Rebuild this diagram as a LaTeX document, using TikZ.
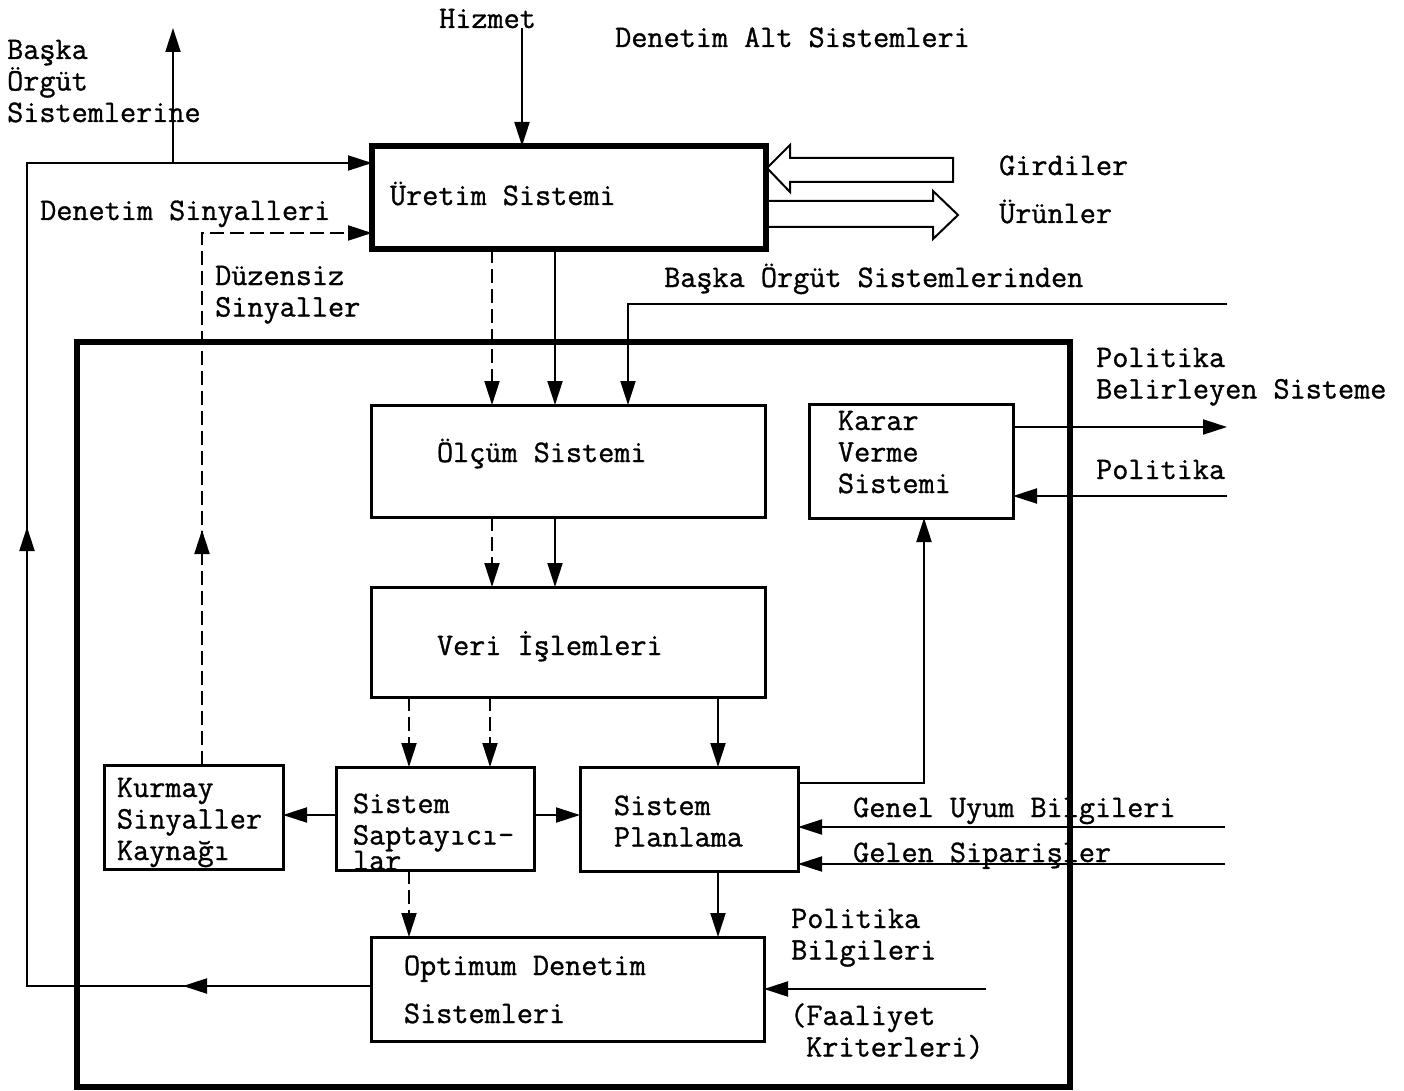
\documentclass[tikz,border=0pt]{standalone}
\usepackage{fontspec}
\setmonofont{Latin Modern Mono}[FakeBold=1]
\usetikzlibrary{arrows.meta}

\tikzset{
  yazi/.style={font=\ttfamily\fontsize{31.3}{31.5}\selectfont, inner sep=0pt,
    execute at begin node={\spaceskip=\fontdimen2\font\relax}},
  kutu/.style={yazi, draw, line width=3pt, anchor=north west, align=left, outer sep=0pt, text height=25pt},
  etiket/.style={yazi, anchor=base west, align=left},
  cizgi/.style={line width=2pt},
  ok/.style={cizgi, -{Triangle[length=24pt,width=15pt]}},
  kesik/.style={ok, dash pattern=on 14pt off 6pt},
}

\begin{document}
\begin{tikzpicture}[x=1pt, y=-1pt]
\useasboundingbox (0,0) rectangle (1404,1091);

% kutular
\node[kutu, line width=5.5pt, inner xsep=18pt, text width=358pt, minimum height=103pt, text depth=10pt] (uretim) at (372,146) {Üretim Sistemi};
\node[draw, line width=6.5pt, anchor=north west, inner sep=0pt, outer sep=0pt, minimum width=993pt, minimum height=745pt] (denetim) at (77,342) {};
\node[kutu, inner xsep=66pt, text width=262pt, minimum height=112pt, text depth=23pt] (olcum) at (371,405) {Ölçüm Sistemi};
\node[kutu, inner xsep=66pt, text width=262pt, minimum height=110pt, text height=30pt, text depth=4pt] (veri) at (371,587) {Veri İşlemleri};
\node[kutu, inner xsep=29pt, text width=146pt, minimum height=114pt, text depth=87pt] (karar) at (809,404) {Karar\\Verme\\Sistemi};
\node[kutu, inner xsep=13pt, text width=153pt, minimum height=104pt, text depth=65pt] (kurmay) at (104,765) {Kurmay\\Sinyaller\\Kaynağı};
\node[kutu, inner xsep=17pt, text width=164pt, minimum height=103pt, text depth=36pt] (saptayici) at (336,767) {Sistem\\Saptayıcı-\\[-6pt]lar};
\node[kutu, inner xsep=34pt, text width=150pt, minimum height=104pt, text depth=33pt] (planlama) at (580,767) {Sistem\\Planlama};
\node[kutu, inner xsep=33pt, text width=327pt, minimum height=104pt, text depth=53pt] (optimum) at (371,937) {Optimum Denetim\\[16.5pt]Sistemleri};

% etiketler
\node[etiket] (hizmet) at (439,28) {Hizmet};
\node[etiket] (altsis) at (615,47) {Denetim Alt Sistemleri};
\node[etiket, text width=200pt] (baskaya) at (7,59) {Başka\\Örgüt\\Sistemlerine};
\node[etiket] (densin) at (40,220) {Denetim Sinyalleri};
\node[etiket, text width=160pt] (duzensiz) at (215,285) {Düzensiz\\Sinyaller};
\node[etiket] (girdi) at (999,175) {Girdiler};
\node[etiket] (urun) at (999,223) {Ürünler};
\node[etiket] (baskadan) at (664,287) {Başka Örgüt Sistemlerinden};
\node[etiket, text width=300pt] (polbel) at (1096,367) {Politika\\Belirleyen Sisteme};
\node[etiket] (politika) at (1096,479) {Politika};
\node[etiket] (genel) at (853,817) {Genel Uyum Bilgileri};
\node[etiket] (siparis) at (853,862) {Gelen Siparişler};
\node[etiket, text width=150pt] (polbil) at (791,928) {Politika\\Bilgileri};
\node[etiket, text width=200pt] (faaliyet) at (790,1025) {(Faaliyet\\\hspace*{16pt}Kriterleri)};

% yardimci noktalar
\coordinate (kA) at (492,0);
\coordinate (kB) at (555,0);
\coordinate (kC) at (628,0);
\coordinate (kD) at (409,0);
\coordinate (kE) at (490,0);
\coordinate (kF) at (718,0);
\coordinate (hizmet-uc) at (522,28);
\coordinate (baska-uc) at (173,28);
\coordinate (geri-ust) at (27,163);
\coordinate (geri-alt) at (27,986);
\coordinate (geri-ok1) at (183,986);
\coordinate (geri-ok2) at (27,527);
\coordinate (kurmay-ust) at (202,233);
\coordinate (kurmay-ok) at (202,530);
\coordinate (baskadan-uc) at (1227,304);
\coordinate (sap-sira) at (0,815);
\coordinate (karar-kose) at (924,783);
\coordinate (karar-cikis) at (1227,427);
\coordinate (politika-giris) at (1227,496);
\coordinate (genel-giris) at (1225,827);
\coordinate (siparis-giris) at (1225,864);
\coordinate (polbil-giris) at (986,989);

% uretim sistemi
\draw[ok] (hizmet-uc) -- (hizmet-uc |- uretim.north);
\draw[cizgi] (953,158) -- (790,158) -- (790,145) -- (767,168) -- (790,192) -- (790,182) -- (953,182) -- cycle;
\draw[cizgi] (766,201) -- (933,201) -- (933,191) -- (958,215) -- (933,239) -- (933,227) -- (766,227);

% geri besleme
\draw[ok] (optimum.west |- geri-alt) -- (geri-alt) -- (geri-ust) -- (uretim.west |- geri-ust);
\draw[ok] (optimum.west |- geri-alt) -- (geri-ok1);
\draw[ok] (geri-alt) -- (geri-ok2);
\draw[ok] (baska-uc |- geri-ust) -- (baska-uc);
\draw[kesik] (kurmay.north -| kurmay-ust) -- (kurmay-ust) -- (uretim.west |- kurmay-ust);
\draw[kesik] (kurmay.north -| kurmay-ust) -- (kurmay-ok);

% olcum ve veri
\draw[kesik] (uretim.south -| kA) -- (olcum.north -| kA);
\draw[ok] (uretim.south -| kB) -- (olcum.north -| kB);
\draw[ok] (baskadan-uc) -- (baskadan-uc -| kC) -- (olcum.north -| kC);
\draw[kesik] (olcum.south -| kA) -- (veri.north -| kA);
\draw[ok] (olcum.south -| kB) -- (veri.north -| kB);
\draw[kesik] (veri.south -| kD) -- (saptayici.north -| kD);
\draw[kesik] (veri.south -| kE) -- (saptayici.north -| kE);
\draw[ok] (veri.south -| kF) -- (planlama.north -| kF);

% saptayici ve planlama
\draw[ok] (saptayici.west |- sap-sira) -- (kurmay.east |- sap-sira);
\draw[ok] (saptayici.east |- sap-sira) -- (planlama.west |- sap-sira);
\draw[kesik] (saptayici.south -| kD) -- (optimum.north -| kD);
\draw[ok] (planlama.south -| kF) -- (optimum.north -| kF);
\draw[ok] (planlama.east |- karar-kose) -- (karar-kose) -- (karar.south -| karar-kose);

% dis baglantilar
\draw[ok] (karar.east |- karar-cikis) -- (karar-cikis);
\draw[ok] (politika-giris) -- (politika-giris -| karar.east);
\draw[ok] (genel-giris) -- (genel-giris -| planlama.east);
\draw[ok] (siparis-giris) -- (siparis-giris -| planlama.east);
\draw[ok] (polbil-giris) -- (polbil-giris -| optimum.east);
\end{tikzpicture}
\end{document}
